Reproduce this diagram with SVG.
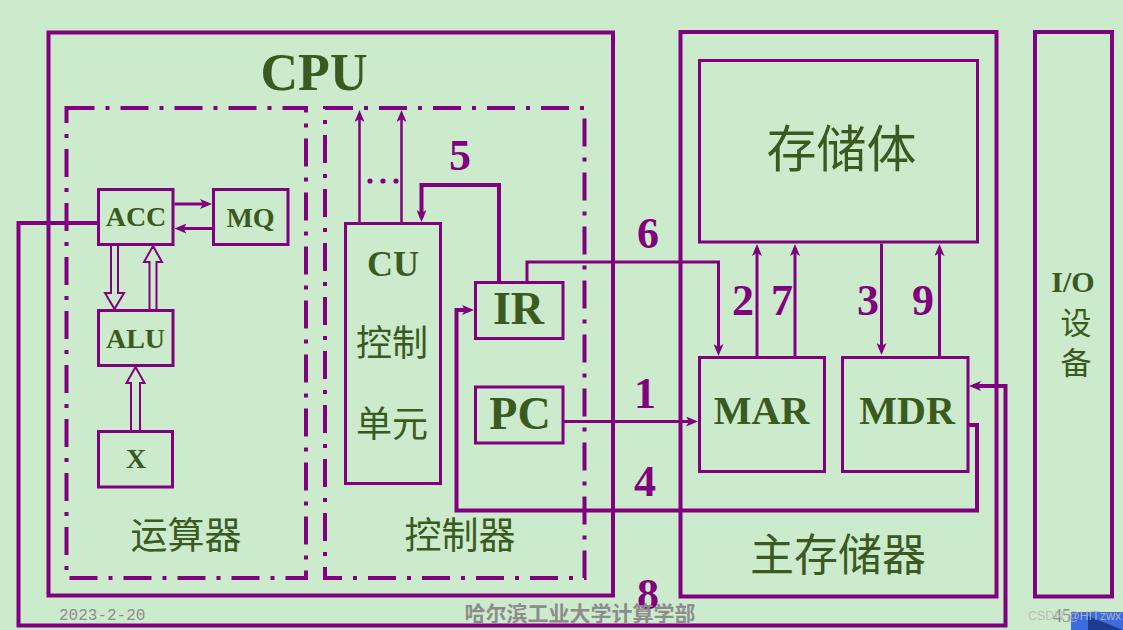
<svg xmlns="http://www.w3.org/2000/svg" width="1123" height="630" viewBox="0 0 1123 630">
<style>
.box{fill:none;stroke:#800080;stroke-width:3}
.big{fill:none;stroke:#800080;stroke-width:4}
.dd{fill:none;stroke:#800080;stroke-width:4;stroke-dasharray:28 11 4 11}
.w{fill:none;stroke:#800080;stroke-width:4}
.t{fill:none;stroke:#800080;stroke-width:3}
.n{fill:none;stroke:#800080;stroke-width:2.5}
.hol{fill:#CCEBCC;stroke:#800080;stroke-width:2}
.lab{font-family:"Liberation Serif",serif;font-weight:bold;fill:#3A5A1F;text-anchor:middle}
.cjk{font-family:"Noto Sans CJK SC",sans-serif;fill:#3A5A1F;text-anchor:middle}
.num{font-family:"Liberation Serif",serif;font-weight:bold;fill:#800080;text-anchor:middle;font-size:44px}
</style>
<defs>
<marker id="arr" viewBox="0 0 12 10" refX="8" refY="5" markerWidth="12" markerHeight="10" markerUnits="userSpaceOnUse" orient="auto">
<path d="M0,0 L12,5 L0,10 L3,5 Z" fill="#800080"/>
</marker>
</defs>
<rect width="1123" height="630" fill="#CCEBCC"/>

<g id="cpu">
<rect class="big" x="48.5" y="32.5" width="564.5" height="563"/>
<text class="lab" x="314" y="90" font-size="52">CPU</text>
</g>
<g id="alu-unit">
<rect class="dd" x="66.5" y="108" width="239.5" height="470"/>
<text class="cjk" x="186" y="549" font-size="37">运算器</text>
</g>
<g id="control-unit">
<rect class="dd" x="325" y="108" width="259.5" height="470"/>
<text class="cjk" x="460" y="549" font-size="37">控制器</text>
</g>
<g id="acc">
<rect class="box" x="98.5" y="189.5" width="74.5" height="55"/>
<text class="lab" x="136" y="226" font-size="28">ACC</text>
</g>
<g id="mq">
<rect class="box" x="213.5" y="189.5" width="74.5" height="55"/>
<text class="lab" x="250.5" y="227" font-size="28">MQ</text>
</g>
<g id="alu">
<rect class="box" x="98.5" y="310.5" width="74.5" height="55"/>
<text class="lab" x="135.5" y="348" font-size="28">ALU</text>
</g>
<g id="x">
<rect class="box" x="98.5" y="431.5" width="74" height="55.5"/>
<text class="lab" x="136" y="468" font-size="28">X</text>
</g>
<g id="cu">
<rect class="box" x="345.5" y="223.5" width="95" height="260"/>
<text class="lab" x="393" y="276" font-size="36">CU</text>
<text class="cjk" x="392" y="356" font-size="36">控制</text>
<text class="cjk" x="392" y="437" font-size="36">单元</text>
</g>
<g id="ir">
<rect class="box" x="475.5" y="282.5" width="87.5" height="56"/>
<text class="lab" x="518.5" y="324" font-size="46">IR</text>
</g>
<g id="pc">
<rect class="box" x="475.5" y="387" width="87.5" height="56"/>
<text class="lab" x="520" y="429" font-size="46">PC</text>
</g>
<g id="main-memory">
<rect class="big" x="680.5" y="32" width="316" height="564.5"/>
<text class="cjk" x="838" y="571" font-size="44">主存储器</text>
</g>
<g id="storage">
<rect class="box" x="699.5" y="60.5" width="278" height="181.5"/>
<text class="cjk" x="841.5" y="167" font-size="50">存储体</text>
</g>
<g id="mar">
<rect class="box" x="699.5" y="357.5" width="125" height="114"/>
<text class="lab" x="761.5" y="424" font-size="40">MAR</text>
</g>
<g id="mdr">
<rect class="box" x="842.5" y="357.5" width="125.5" height="114"/>
<text class="lab" x="907" y="424" font-size="40">MDR</text>
</g>
<g id="io">
<rect class="big" x="1035" y="32" width="77" height="564.5"/>
<text class="lab" x="1073" y="292" font-size="30">I/O</text>
<text class="cjk" x="1076" y="334" font-size="31">设</text>
<text class="cjk" x="1076" y="374" font-size="31">备</text>
</g>

<g id="connectors">
<path class="w" d="M97,223 H18.5 V625.5 H1005.5 V386 H973" marker-end="url(#arr)"/>
<path class="w" d="M969,425 H977 V510.5 H456.5 V310 H470" marker-end="url(#arr)"/>
<path class="t" d="M527,281 V262 H718.5 V352" marker-end="url(#arr)"/>
<path class="w" d="M499,281 V185 H421.5 V218" marker-end="url(#arr)"/>
<path class="t" d="M564,421.5 H694" marker-end="url(#arr)"/>
<path class="n" d="M359.5,222 V114" marker-end="url(#arr)"/>
<path class="n" d="M401.5,222 V114" marker-end="url(#arr)"/>
<path class="t" d="M757,356 V248" marker-end="url(#arr)"/>
<path class="t" d="M795,356 V248" marker-end="url(#arr)"/>
<path class="t" d="M881.5,243.5 V351" marker-end="url(#arr)"/>
<path class="t" d="M939.5,356 V248" marker-end="url(#arr)"/>
<path class="t" d="M174.5,204 H208" marker-end="url(#arr)"/>
<path class="t" d="M212,228.5 H178.5" marker-end="url(#arr)"/>
<polygon class="hol" points="111,245 118,245 118,293 124,293 114.5,309 105,293 111,293"/>
<polygon class="hol" points="149.5,310 156.5,310 156.5,262 162,262 153,246 144,262 149.5,262"/>
<polygon class="hol" points="131,431 140,431 140,383 144.5,383 135.5,367 126.5,383 131,383"/>
<circle cx="370" cy="181" r="2.6" fill="#800080"/>
<circle cx="383" cy="181" r="2.6" fill="#800080"/>
<circle cx="396" cy="181" r="2.6" fill="#800080"/>
<text class="num" x="648" y="248">6</text>
<text class="num" x="460" y="170">5</text>
<text class="num" x="645" y="408">1</text>
<text class="num" x="645" y="496">4</text>
<text class="num" x="648" y="609">8</text>
<text class="num" x="743" y="315">2</text>
<text class="num" x="782" y="315">7</text>
<text class="num" x="868" y="315">3</text>
<text class="num" x="923" y="315">9</text>
</g>

<g id="footer">
<text x="59" y="620" font-family="Liberation Mono, monospace" font-size="16" fill="#8C8C8C">2023-2-20</text>
<text x="580" y="621" font-family="Noto Sans CJK SC, sans-serif" font-weight="bold" font-size="21" fill="#8C8C8C" text-anchor="middle">哈尔滨工业大学计算学部</text>
<rect x="1071" y="612" width="52" height="18" fill="#3D6BE0"/>
<polygon points="1088,616 1123,630 1088,630" fill="#1F3A8F"/>
<text x="1062" y="622" font-family="Liberation Serif, serif" font-size="18" fill="#8C8C8C" text-anchor="middle">45</text>
<text x="1028" y="620" font-family="Liberation Sans, sans-serif" font-size="12.5" fill="#B8B8B8" fill-opacity="0.9">CSDN @HITzwx</text>
</g>
</svg>
